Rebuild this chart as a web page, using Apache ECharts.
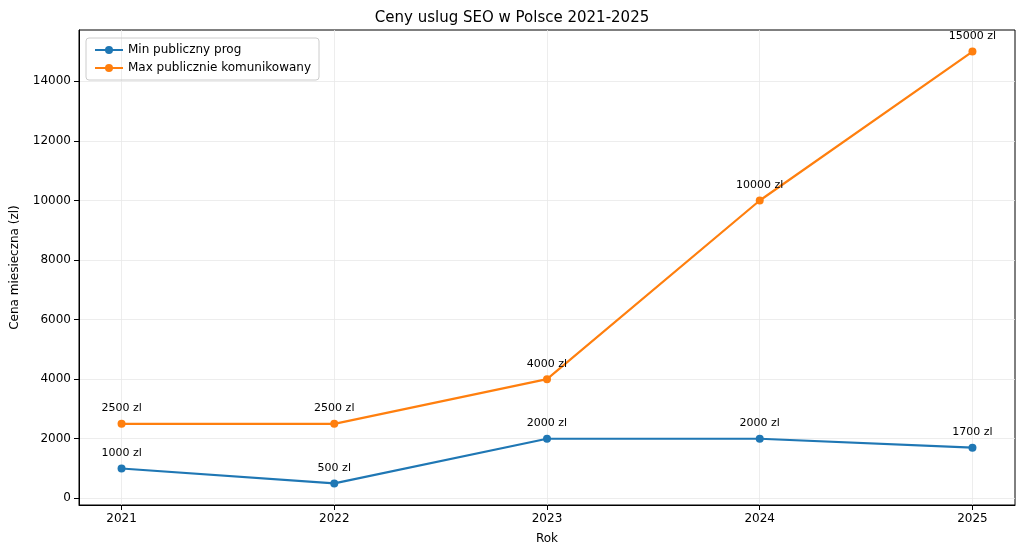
<!DOCTYPE html><html><head><meta charset="utf-8"><script src="https://cdn.jsdelivr.net/npm/echarts@6/dist/echarts.min.js"></script></head><body style="margin:0"><div id="c" style="width:1024px;height:555px"></div><script>
const years=[2021,2022,2023,2024,2025];
const minVals=[1000,500,2000,2000,1700];
const maxVals=[2500,2500,4000,10000,15000];
const yTicks=[0,2000,4000,6000,8000,10000,12000,14000];
const ch=echarts.init(document.getElementById('c'));
const lbl={show:true,position:'top',distance:6,fontSize:11,color:'#000',fontFamily:'DejaVu Sans',formatter:p=>p.value[1]+' zl'};
const grid0={show:true,lineStyle:{color:'#e8e8e8',width:0.8}};
ch.setOption({
 animation:false,
 textStyle:{fontFamily:'DejaVu Sans'},
 title:{text:'Ceny uslug SEO w Polsce 2021-2025',left:'center',top:6,textStyle:{fontSize:15,fontWeight:'normal',color:'#000'}},
 legend:{left:86,top:38,orient:'vertical',itemGap:6,itemWidth:28,itemHeight:10,padding:[6,8],borderColor:'#ccc',borderWidth:1,borderRadius:3,textStyle:{fontSize:12,color:'#000'},data:['Min publiczny prog','Max publicznie komunikowany']},
 grid:{left:79,right:9,top:30,bottom:50,show:true,borderColor:'#000',borderWidth:1,backgroundColor:'transparent'},
 xAxis:{type:'value',min:2020.8,max:2025.2,name:'Rok',nameLocation:'middle',nameGap:28,nameTextStyle:{fontSize:12,color:'#000'},
  axisLine:{onZero:false,lineStyle:{color:'#000'}},axisTick:{show:true,customValues:years,lineStyle:{color:'#000'}},
  axisLabel:{customValues:years,color:'#000',fontSize:12,formatter:v=>String(Math.round(v))},splitLine:grid0},
 yAxis:{type:'value',min:-225,max:15725,name:'Cena miesieczna (zl)',nameLocation:'middle',nameGap:58,nameTextStyle:{fontSize:12,color:'#000'},
  axisLine:{show:true,lineStyle:{color:'#000'}},axisTick:{show:true,customValues:yTicks,lineStyle:{color:'#000'}},
  axisLabel:{customValues:yTicks,color:'#000',fontSize:12,formatter:v=>String(v)},splitLine:grid0},
 series:[
  {name:'Min publiczny prog',type:'line',data:years.map((y,i)=>[y,minVals[i]]),color:'#1f77b4',lineStyle:{width:2.2},symbol:'circle',symbolSize:8,label:lbl},
  {name:'Max publicznie komunikowany',type:'line',data:years.map((y,i)=>[y,maxVals[i]]),color:'#ff7f0e',lineStyle:{width:2.2},symbol:'circle',symbolSize:8,label:lbl}
 ]
});
</script></body></html>
